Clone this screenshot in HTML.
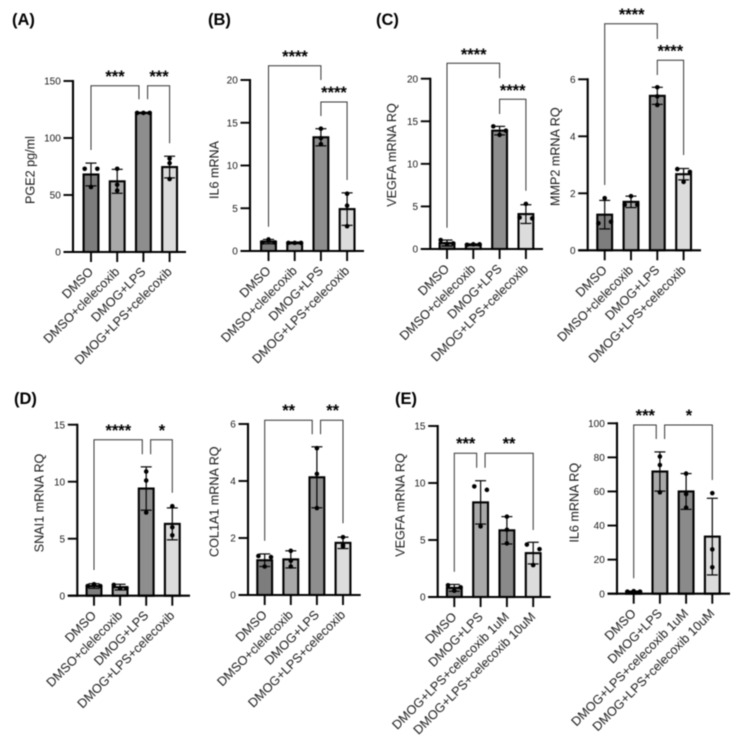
<!DOCTYPE html>
<html lang="en">
<head>
<meta charset="utf-8">
<title>PGE2 and mRNA bar charts</title>
<style>
html,body{margin:0;padding:0;background:#fff;}
body{width:740px;height:743px;overflow:hidden;}
svg{display:block;font-family:"Liberation Sans",sans-serif;filter:blur(0.45px);}
</style>
</head>
<body>
<svg id="figure" width="740" height="743" viewBox="0 0 740 743" xmlns="http://www.w3.org/2000/svg"></svg>
<script>
// ---------- shared categories ----------
const categoriesCelecoxib = ['DMSO', 'DMSO+clelecoxib', 'DMOG+LPS', 'DMOG+LPS+celecoxib'];
const categoriesDose = ['DMSO', 'DMOG+LPS', 'DMOG+LPS+celecoxib 1uM', 'DMOG+LPS+celecoxib 10uM'];

// ---------- panel A: PGE2 ----------
const ticksA = [0, 50, 100, 150];
const meansA = [68, 62, 122, 74.5];
const errorsA = [10, 10.5, 0.5, 9.5];
const pointsA = [[73, 73, 57], [73, 59, 54], [122, 122, 122], [82, 78, 64]];
const slotsA = [[-1, 1, 0], [0, 0, 0], [-1, 0, 1], [0, 0, 0]];

// ---------- panel B: IL6 ----------
const ticksB = [0, 5, 10, 15, 20];
const meansB = [1.1, 0.95, 13.3, 4.9];
const errorsB = [0.25, 0.1, 1, 1.9];
const pointsB = [[1.35, 1, 1], [0.95, 0.95, 0.95], [14.3, 13.2, 12.5], [6.7, 5.3, 2.9]];
const slotsB = [[0, -1, 1], [-1, 0, 1], [0, 0, 0], [0, 0, 0]];

// ---------- panel C: VEGFA ----------
const ticksC1 = [0, 5, 10, 15, 20];
const meansC1 = [0.7, 0.5, 13.9, 4.1];
const errorsC1 = [0.35, 0.1, 0.5, 1.1];
const pointsC1 = [[1.05, 0.65, 0.6], [0.5, 0.55, 0.55], [14.4, 13.9, 13.4], [5.3, 3.7, 3.6]];
const slotsC1 = [[-1, 1, 0], [-1, 0, 1], [-1, 1, 0], [0, -1, 1]];

// ---------- panel C: MMP2 ----------
const ticksC2 = [0, 2, 4, 6];
const meansC2 = [1.25, 1.7, 5.42, 2.67];
const errorsC2 = [0.5, 0.2, 0.3, 0.2];
const pointsC2 = [[1.83, 0.95, 1], [1.9, 1.6, 1.6], [5.72, 5.4, 5.1], [2.85, 2.75, 2.4]];
const slotsC2 = [[0, -1, 1], [0, -1, 1], [0, 0, 0], [-1, 1, 0]];

// ---------- panel D: SNAI1 ----------
const ticksD1 = [0, 5, 10, 15];
const meansD1 = [0.85, 0.75, 9.4, 6.3];
const errorsD1 = [0.2, 0.25, 1.9, 1.4];
const pointsD1 = [[1, 0.85, 0.85], [0.95, 0.65, 0.65], [10.9, 10.1, 7.3], [7.85, 6, 5.3]];
const slotsD1 = [[0, -1, 1], [-1, 0, 1], [0, 0, 0], [0, 0, 0]];

// ---------- panel D: COL1A1 ----------
const ticksD2 = [0, 2, 4, 6];
const meansD2 = [1.22, 1.25, 4.13, 1.83];
const errorsD2 = [0.22, 0.3, 1.07, 0.2];
const pointsD2 = [[1.37, 1.33, 1], [1.55, 1.2, 1], [5.15, 4.25, 3.05], [2.03, 1.75, 1.7]];
const slotsD2 = [[-1, 1, 0], [0, 0, 0], [0, 0, 0], [0, 0, 0]];

// ---------- panel E: VEGFA dose ----------
const ticksE1 = [0, 5, 10, 15];
const meansE1 = [0.8, 8.3, 5.85, 3.85];
const errorsE1 = [0.3, 1.9, 1.2, 0.95];
const pointsE1 = [[1.03, 0.85, 0.55], [9.7, 9.4, 6.2], [7.05, 5.9, 4.7], [4.6, 4.2, 2.8]];
const slotsE1 = [[-1, 1, 0], [-1, 1, 0], [0, 0, 0], [-1, 1, 0]];

// ---------- panel E: IL6 dose ----------
const ticksE2 = [0, 20, 40, 60, 80, 100];
const meansE2 = [1.2, 71.7, 60, 33.5];
const errorsE2 = [0.3, 11.5, 10.5, 22.5];
const pointsE2 = [[1.2, 1.5, 1.2], [80.5, 75.5, 59.5], [70.5, 58.5, 50.5], [59, 26, 15.5]];
const slotsE2 = [[-1, 0, 1], [0, 0, 0], [0, 0, 0], [0, 0, 0]];

// ---------- significance labels ----------
const sigA = ['***', '***'];
const sigB = ['****', '****'];
const sigC1 = ['****', '****'];
const sigC2 = ['****', '****'];
const sigD1 = ['****', '*'];
const sigD2 = ['**', '**'];
const sigE1 = ['***', '**'];
const sigE2 = ['***', '*'];

const barFills = ['#7d7d7d', '#a9a9a9', '#8e8e8e', '#dcdcdc'];
const barFillsDose = ['#7d7d7d', '#a9a9a9', '#8a8a8a', '#dcdcdc'];

// ---------- layout (frame geometry and annotation placement only) ----------
const panels = [
 {id:'a', title:'PGE2 pg/ml', cats:categoriesCelecoxib, ticks:ticksA, means:meansA, errors:errorsA, points:pointsA, slots:slotsA, fills:barFills, sig:sigA,
  ax:73, top:81, zero:252, c0:91, pitch:26.2, end:186, tx:30, ty:170,
  br:[{a:0,b:1.83,t:85.7,l:150,r:99.3,lx:115,ly:75},{a:2.16,b:3,t:85.7,l:99.3,r:143.3,lx:159,ly:75}]},
 {id:'b', title:'IL6 mRNA', cats:categoriesCelecoxib, ticks:ticksB, means:meansB, errors:errorsB, points:pointsB, slots:slotsB, fills:barFills, sig:sigB,
  ax:250, top:80, zero:251, c0:268.5, pitch:26.2, end:364, tx:214, ty:170,
  br:[{a:0,b:2,t:65.7,l:226.7,r:80,lx:295,ly:55},{a:2,b:3,t:102,l:116,r:180,lx:334,ly:91}]},
 {id:'c-vegfa', title:'VEGFA mRNA RQ', cats:categoriesCelecoxib, ticks:ticksC1, means:meansC1, errors:errorsC1, points:pointsC1, slots:slotsC1, fills:barFills, sig:sigC1,
  ax:430.3, top:78.7, zero:249, c0:447, pitch:26.3, end:543, tx:391.7, ty:155,
  br:[{a:0,b:2,t:63.3,l:227.7,r:78.3,lx:473.7,ly:53},{a:2,b:3,t:99.3,l:114,r:190.7,lx:512.7,ly:89}]},
 {id:'c-mmp2', title:'MMP2 mRNA RQ', cats:categoriesCelecoxib, ticks:ticksC2, means:meansC2, errors:errorsC2, points:pointsC2, slots:slotsC2, fills:barFills, sig:sigC2,
  ax:587.7, top:79.3, zero:250.3, c0:604.7, pitch:26.3, end:701, tx:555, ty:156.7,
  br:[{a:0,b:2,t:23.7,l:185,r:39,lx:631.7,ly:13},{a:2,b:3,t:60.3,l:75,r:155,lx:670.3,ly:49.7}]},
 {id:'d-snai1', title:'SNAI1 mRNA RQ', cats:categoriesCelecoxib, ticks:ticksD1, means:meansD1, errors:errorsD1, points:pointsD1, slots:slotsD1, fills:barFills, sig:sigD1,
  ax:77.3, top:424.7, zero:595.7, c0:94, pitch:26.1, end:190, tx:39, ty:503,
  br:[{a:0,b:1.85,t:439.7,l:570,r:454.3,lx:118.3,ly:429},{a:2.17,b:3,t:439.7,l:454.3,r:492.7,lx:162,ly:429}]},
 {id:'d-col1a1', title:'COL1A1 mRNA RQ', cats:categoriesCelecoxib, ticks:ticksD2, means:meansD2, errors:errorsD2, points:pointsD2, slots:slotsD2, fills:barFills, sig:sigD2,
  ax:248, top:424, zero:595, c0:264.7, pitch:26.1, end:360.7, tx:214.3, ty:501.7,
  br:[{a:0,b:1.82,t:420.3,l:540.7,r:434.3,lx:288.7,ly:409.3},{a:2.14,b:3,t:420.3,l:434.3,r:523.3,lx:332.7,ly:409.3}]},
 {id:'e-vegfa', title:'VEGFA mRNA RQ', cats:categoriesDose, ticks:ticksE1, means:meansE1, errors:errorsE1, points:pointsE1, slots:slotsE1, fills:barFillsDose, sig:sigE1,
  ax:437.7, top:426, zero:597, c0:454.3, pitch:26.3, end:550.7, tx:400, ty:505,
  br:[{a:0,b:0.85,t:453.3,l:571.7,r:467.7,lx:465.7,ly:442.3},{a:1.17,b:3,t:453.3,l:467.7,r:530,lx:509,ly:442.3}]},
 {id:'e-il6', title:'IL6 mRNA RQ', cats:categoriesDose, ticks:ticksE2, means:meansE2, errors:errorsE2, points:pointsE2, slots:slotsE2, fills:barFillsDose, sig:sigE2,
  ax:617, top:423.3, zero:593.7, c0:633.7, pitch:26.2, end:730, tx:574.3, ty:502.7,
  br:[{a:0,b:0.86,t:425,l:578.3,r:439,lx:645.3,ly:414},{a:1.18,b:3,t:425,l:439,r:480,lx:689,ly:414}]}
];

const panelLetters = ['(A)', '(B)', '(C)', '(D)', '(E)'];
const letterX = [12, 208, 376, 14, 395];
const letterY = [25, 25, 25, 404, 404];

const SVG_NS = 'http://www.w3.org/2000/svg';
const figure = document.getElementById('figure');

function line(parent, x1, y1, x2, y2, stroke, width) {
  const el = document.createElementNS(SVG_NS, 'line');
  el.setAttribute('x1', x1);
  el.setAttribute('y1', y1);
  el.setAttribute('x2', x2);
  el.setAttribute('y2', y2);
  el.setAttribute('stroke', stroke);
  el.setAttribute('stroke-width', width);
  parent.appendChild(el);
  return el;
}

function label(parent, x, y, str, size, anchor) {
  const el = document.createElementNS(SVG_NS, 'text');
  el.setAttribute('x', x);
  el.setAttribute('y', y);
  el.setAttribute('font-size', size);
  el.setAttribute('text-anchor', anchor);
  el.setAttribute('fill', '#1a1a1a');
  el.textContent = str;
  parent.appendChild(el);
  return el;
}

function drawPanel(p) {
  const maxV = p.ticks[p.ticks.length - 1];
  const yScale = function (v) { return p.zero - (v / maxV) * (p.zero - p.top); };
  const xScale = function (i) { return p.c0 + i * p.pitch; };

  const g = document.createElementNS(SVG_NS, 'g');
  
  
  figure.appendChild(g);

  // bars
  p.means.forEach(function (m, i) {
    const bar = document.createElementNS(SVG_NS, 'rect');
    
    
    bar.setAttribute('x', xScale(i) - 7.4);
    bar.setAttribute('y', yScale(m));
    bar.setAttribute('width', 14.8);
    bar.setAttribute('height', Math.max(0, p.zero - yScale(m)));
    bar.setAttribute('fill', p.fills[i]);
    bar.setAttribute('stroke', '#000');
    bar.setAttribute('stroke-width', 2.1);
    g.appendChild(bar);
  });

  // error bars
  p.means.forEach(function (m, i) {
    const x = xScale(i);
    const hi = yScale(m + p.errors[i]);
    const lo = yScale(Math.max(0, m - p.errors[i]));
    const stem = line(g, x, hi, x, lo, '#000', 1.2);
    
    
    const capTop = line(g, x - 5.5, hi, x + 5.5, hi, '#000', 1.2);
    
    
    const capLow = line(g, x - 5.5, lo, x + 5.5, lo, '#000', 1.2);
    
    
  });

  // data points
  p.points.forEach(function (vals, i) {
    vals.forEach(function (v, k) {
      const dot = document.createElementNS(SVG_NS, 'circle');
      
      
      dot.setAttribute('cx', xScale(i) + p.slots[i][k] * 6.3);
      dot.setAttribute('cy', yScale(v));
      dot.setAttribute('r', 2.3);
      dot.setAttribute('fill', '#000');
      g.appendChild(dot);
    });
  });

  // y axis
  const yAxis = line(g, p.ax, p.top - 1, p.ax, p.zero + 1, '#000', 2.1);
  
  
  p.ticks.forEach(function (t) {
    const y = yScale(t);
    const tick = line(g, p.ax - 9.5, y, p.ax, y, '#000', 1.9);
    
    
    const tl = label(g, p.ax - 12.2, y + 3.6, String(t), 10, 'end');
    
    
  });

  // x axis
  const xAxis = line(g, p.ax - 9.5, p.zero, p.end, p.zero, '#000', 2.1);
  
  
  p.cats.forEach(function (c, i) {
    const x = xScale(i);
    const tick = line(g, x, p.zero, x, p.zero + 10, '#000', 1.9);
    
    
    const ax = x + 3;
    const ay = p.zero + 20.5;
    const cl = label(g, ax, ay, c, 12.7, 'end');
    cl.setAttribute('transform', 'rotate(-45 ' + ax + ' ' + ay + ')');
    
    
  });

  // y axis title
  const title = label(g, p.tx + 4.4, p.ty, p.title, 12.6, 'middle');
  title.setAttribute('transform', 'rotate(-90 ' + (p.tx + 4.4) + ' ' + p.ty + ')');
  
  

  // significance brackets
  p.br.forEach(function (b, i) {
    const x1 = xScale(b.a);
    const x2 = xScale(b.b);
    const path = document.createElementNS(SVG_NS, 'polyline');
    
    
    path.setAttribute('points', x1 + ',' + b.l + ' ' + x1 + ',' + b.t + ' ' + x2 + ',' + b.t + ' ' + x2 + ',' + b.r);
    path.setAttribute('fill', 'none');
    path.setAttribute('stroke', '#333');
    path.setAttribute('stroke-width', 1);
    g.appendChild(path);
    const s = label(g, b.lx, b.ly + 6.8, p.sig[i], 16.5, 'middle');
    s.setAttribute('font-weight', 'bold');
    s.setAttribute('fill', '#000');
    
    
  });
}

panels.forEach(drawPanel);

panelLetters.forEach(function (str, i) {
  const el = label(figure, letterX[i], letterY[i], str, 16.5, 'start');
  el.setAttribute('font-weight', 'bold');
  el.setAttribute('fill', '#000');
  
  
});
</script>
</body>
</html>
